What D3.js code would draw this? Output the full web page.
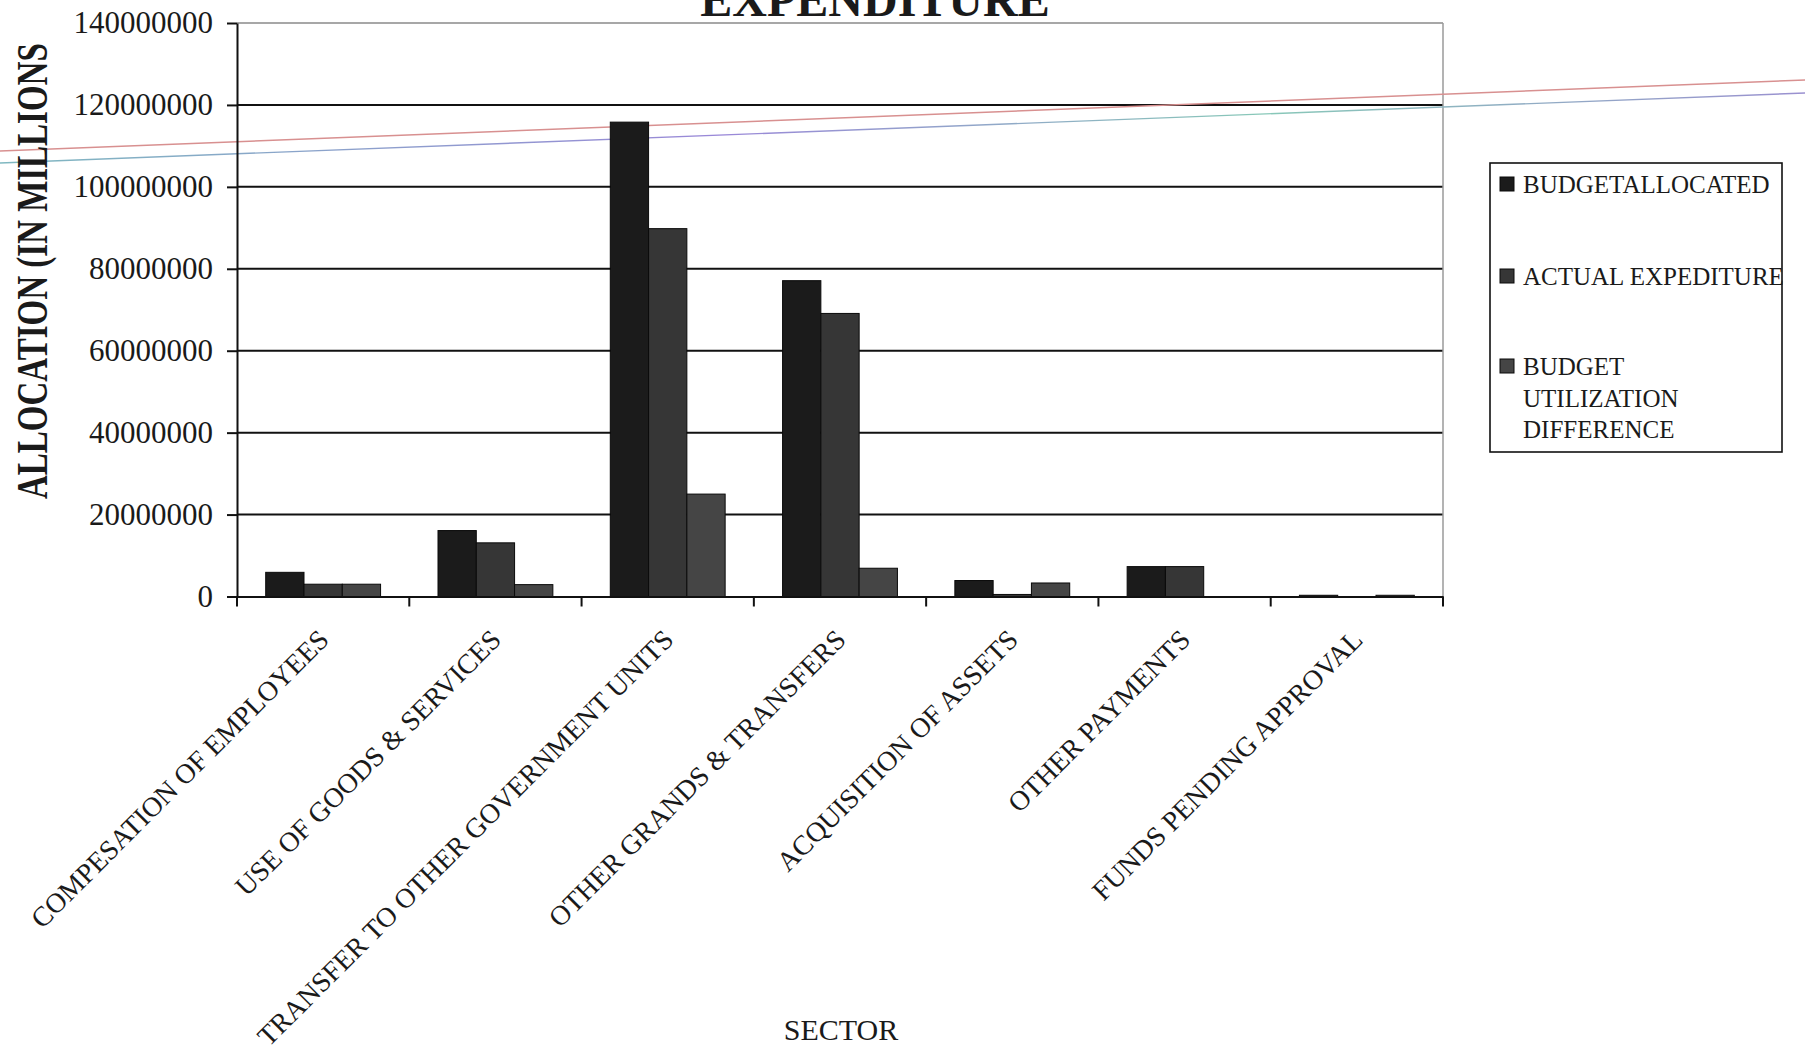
<!DOCTYPE html>
<html>
<head>
<meta charset="utf-8">
<script src="https://cdn.jsdelivr.net/npm/d3@7"></script>
<style>
  html, body { margin: 0; padding: 0; background: #ffffff; }
  svg { display: block; }
  text { font-family: "Liberation Serif", "Times New Roman", serif; fill: #1a1a1a; }
</style>
</head>
<body>
<svg id="chart" width="1805" height="1049"></svg>
<script>
// ---------- data ----------
const categories = [
  "COMPESATION OF EMPLOYEES",
  "USE OF GOODS & SERVICES",
  "TRANSFER TO OTHER GOVERNMENT UNITS",
  "OTHER GRANDS & TRANSFERS",
  "ACQUISITION OF ASSETS",
  "OTHER PAYMENTS",
  "FUNDS PENDING APPROVAL"
];
const seriesNames = ["BUDGETALLOCATED", "ACTUAL EXPEDITURE", "BUDGET UTILIZATION DIFFERENCE"];
const budgetAllocated       = [5900000, 16100000, 115800000, 77100000, 3900000, 7300000, 300000];
const actualExpenditure     = [3000000, 13100000,  89800000, 69100000,  500000, 7300000,      0];
const utilizationDifference = [3000000,  2900000,  25000000,  6900000, 3300000,       0, 300000];
const yTicks = [0, 20000000, 40000000, 60000000, 80000000, 100000000, 120000000, 140000000];
const seriesColors = ["#1b1b1b", "#363636", "#454545"];
const titleText = "EXPENDITURE";
const yTitle = "ALLOCATION (IN MILLIONS";
const xTitle = "SECTOR";

(function () {
// ---------- layout ----------
const svg = d3.select("#chart");
const pLeft = 237, pRight = 1443, pTop = 23, pBottom = 596.5;

const x0 = d3.scaleBand().domain(categories).range([pLeft, pRight]).padding(0);
const x1 = d3.scaleBand().domain(d3.range(seriesNames.length))
  .range([0, x0.bandwidth()]).paddingInner(0).paddingOuter(0.75);
const y = d3.scaleLinear().domain([0, 140000000]).range([pBottom, pTop]);

const seriesValues = [budgetAllocated, actualExpenditure, utilizationDifference];
const rows = categories.map((c, i) => ({ cat: c, vals: seriesValues.map(s => s[i]) }));

// title (partially cut at top as in the reference)
svg.append("text")
  .attr("x", 875).attr("y", 16)
  .attr("text-anchor", "middle")
  .style("font-size", "48px").style("font-weight", "bold")
  .text(titleText);

// gridlines
svg.append("g").selectAll("line")
  .data(yTicks.filter(t => t > 0))
  .join("line")
  .attr("x1", pLeft).attr("x2", pRight)
  .attr("y1", d => y(d)).attr("y2", d => y(d))
  .attr("stroke", d => d === 140000000 ? "#8a8a8a" : "#111")
  .attr("stroke-width", d => d === 140000000 ? 1.5 : 2);

// right border of plot area
svg.append("line")
  .attr("x1", pRight).attr("x2", pRight).attr("y1", pTop).attr("y2", pBottom)
  .attr("stroke", "#9a9a9a").attr("stroke-width", 1.5);

// scan artifact lines
const defs = svg.append("defs");
const grad = defs.append("linearGradient").attr("id", "g2").attr("x1", "0%").attr("x2", "100%");
grad.append("stop").attr("offset", "0%").attr("stop-color", "#7fb8c0");
grad.append("stop").attr("offset", "40%").attr("stop-color", "#9a88d8");
grad.append("stop").attr("offset", "70%").attr("stop-color", "#88c8b8");
grad.append("stop").attr("offset", "100%").attr("stop-color", "#9a90d0");
svg.append("line").attr("x1", 0).attr("y1", 151).attr("x2", 1805).attr("y2", 80)
  .attr("stroke", "#d89090").attr("stroke-width", 1.4);
svg.append("line").attr("x1", 0).attr("y1", 163).attr("x2", 1805).attr("y2", 93)
  .attr("stroke", "url(#g2)").attr("stroke-width", 1.4);

// bars
const groups = svg.append("g").selectAll("g")
  .data(rows).join("g")
  .attr("transform", d => `translate(${x0(d.cat)},0)`);
groups.selectAll("rect")
  .data(d => d.vals.map((v, k) => ({ k, v })))
  .join("rect")
  .attr("x", d => x1(d.k))
  .attr("width", x1.bandwidth())
  .attr("y", d => y(d.v))
  .attr("height", d => y(0) - y(d.v))
  .attr("fill", d => seriesColors[d.k])
  .attr("stroke", "#0a0a0a").attr("stroke-width", 1);

// y axis
const yAxis = svg.append("g").attr("transform", `translate(${pLeft},0)`)
  .call(d3.axisLeft(y).tickValues(yTicks).tickSize(10).tickSizeOuter(0).tickPadding(14)
        .tickFormat(d3.format("d")));
yAxis.select(".domain").attr("stroke", "#111").attr("stroke-width", 2);
yAxis.selectAll(".tick line").attr("stroke", "#111").attr("stroke-width", 2);
yAxis.selectAll(".tick text")
  .style("font-size", "31px").style("font-family", "Liberation Serif, serif").attr("fill", "#222");

// x axis
const xAxis = svg.append("g").attr("transform", `translate(0,${pBottom})`)
  .call(d3.axisBottom(x0).tickSize(0).tickSizeOuter(0).tickFormat(() => ""));
xAxis.select(".domain").attr("stroke", "#111").attr("stroke-width", 2);
// boundary ticks between categories
svg.append("g").selectAll("line")
  .data(categories.map(c => x0(c)).concat([x0(categories[categories.length - 1]) + x0.bandwidth()]))
  .join("line")
  .attr("x1", d => d).attr("x2", d => d)
  .attr("y1", pBottom).attr("y2", pBottom + 10)
  .attr("stroke", "#111").attr("stroke-width", 2);
// rotated category labels
svg.append("g").selectAll("text")
  .data(categories).join("text")
  .attr("transform", d => `translate(${x0(d) + x0.bandwidth() / 2 - 6},628) rotate(-45)`)
  .attr("text-anchor", "end")
  .attr("dy", "0.68em")
  .style("font-size", "27.8px")
  .text(d => d);

// axis titles
svg.append("text")
  .attr("transform", "translate(47,499) rotate(-90) scale(0.75,1)")
  .attr("text-anchor", "start")
  .style("font-size", "44px").style("font-weight", "bold")
  .text(yTitle);
svg.append("text")
  .attr("x", 841).attr("y", 1040)
  .attr("text-anchor", "middle")
  .style("font-size", "30px")
  .text(xTitle);

// legend
const lg = svg.append("g");
lg.append("rect").attr("x", 1490).attr("y", 163).attr("width", 292).attr("height", 289)
  .attr("fill", "none").attr("stroke", "#111").attr("stroke-width", 1.6);
const legendItems = [
  { lines: ["BUDGETALLOCATED"], y: 193 },
  { lines: ["ACTUAL EXPEDITURE"], y: 285 },
  { lines: ["BUDGET", "UTILIZATION", "DIFFERENCE"], y: 375 }
];
legendItems.forEach((it, k) => {
  lg.append("rect").attr("x", 1500).attr("y", it.y - 16).attr("width", 14).attr("height", 14)
    .attr("fill", seriesColors[k]).attr("stroke", "#0a0a0a").attr("stroke-width", 1);
  const t = lg.append("text").attr("x", 1523).attr("y", it.y).style("font-size", "25px");
  it.lines.forEach((ln, j) => {
    t.append("tspan").attr("x", 1523).attr("dy", j === 0 ? 0 : 31.5).text(ln);
  });
});
})();
</script>
</body>
</html>
